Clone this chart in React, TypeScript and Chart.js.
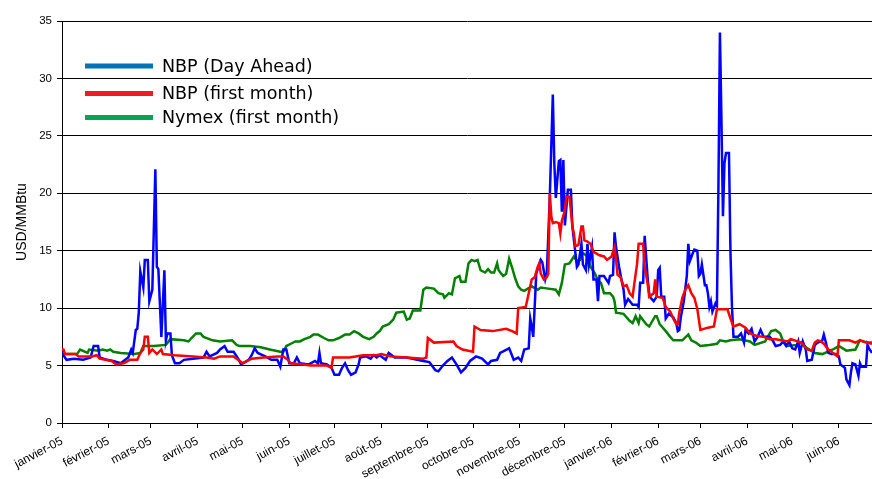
import React, { useEffect, useRef } from 'react';
import { Chart, registerables } from 'chart.js';

Chart.register(...registerables);

// Day offsets (days since 1 Jan 2005) of month starts, and their labels
const monthStarts = [0, 31, 59, 90, 120, 151, 181, 212, 243, 273, 304, 334, 365, 396, 424, 455, 485, 516];
const monthLabels = [
  'janvier-05', 'février-05', 'mars-05', 'avril-05', 'mai-05', 'juin-05', 'juillet-05', 'août-05',
  'septembre-05', 'octobre-05', 'novembre-05', 'décembre-05', 'janvier-06', 'février-06', 'mars-06',
  'avril-06', 'mai-06', 'juin-06',
];
const lastDay = 538;

const yTicks = [0, 5, 10, 15, 20, 25, 30, 35];

// NBP (Day Ahead)
const nbpDayAheadDays = [
  0, 3, 8, 14, 19, 21, 24, 25, 30, 34,
  39, 42, 44, 46, 47, 49, 50, 51, 52, 54,
  55, 57, 58, 60, 62, 63, 64, 66, 68, 69,
  70, 72, 73, 75, 78, 81, 87, 94, 96, 98,
  103, 105, 108, 110, 114, 117, 119, 124, 126, 128,
  130, 135, 139, 143, 145, 147, 149, 151, 154, 156,
  158, 164, 168, 170, 171, 172, 176, 179, 181, 184,
  186, 188, 190, 192, 195, 197, 198, 202, 205, 207,
  209, 211, 215, 217, 221, 229, 236, 240, 244, 248,
  250, 253, 256, 259, 262, 265, 268, 271, 275, 279,
  283, 285, 289, 291, 294, 297, 300, 303, 305, 307,
  310, 311, 312, 313, 315, 318, 319, 321, 322, 324,
  326, 327, 328, 330, 331, 332, 333, 334, 336, 338,
  339, 341, 342, 343, 345, 346, 348, 349, 350, 352,
  353, 355, 356, 357, 360, 363, 364, 366, 367, 368,
  370, 372, 373, 374, 376, 379, 382, 383, 384, 386,
  387, 389, 390, 391, 393, 395, 396, 397, 398, 400,
  401, 403, 404, 406, 408, 409, 410, 411, 413, 415,
  416, 417, 419, 420, 422, 423, 424, 425, 427, 428,
  429, 430, 431, 432, 434, 435, 436, 437, 438, 439,
  440, 441, 443, 444, 445, 446, 449, 451, 453, 454,
  456, 458, 460, 462, 464, 466, 470, 472, 474, 477,
  479, 481, 483, 485, 487, 489, 490, 492, 494, 495,
  498, 500, 502, 505, 506, 507, 509, 511, 514, 516,
  517, 520, 521, 523, 524, 525, 527, 529, 530, 531,
  534, 535, 536, 538,
];
const nbpDayAheadValues = [
  6.1, 5.5, 5.6, 5.5, 5.7, 6.7, 6.7, 5.7, 5.5, 5.4,
  5.2, 5.5, 5.7, 6.4, 6.1, 8.1, 8.2, 9.6, 13.2, 11.8,
  14.2, 14.2, 10.6, 11.6, 22.1, 13.6, 13.4, 7.5, 13.3, 7.2,
  7.8, 7.8, 5.9, 5.2, 5.2, 5.5, 5.6, 5.7, 6.2, 5.8,
  6.1, 6.4, 6.7, 6.2, 6.2, 5.6, 5.1, 5.5, 5.9, 6.5,
  6.1, 5.8, 5.5, 5.5, 4.9, 6.4, 6.4, 5.2, 5.2, 5.7,
  5.2, 5.1, 5.4, 5.2, 6.1, 5.2, 5.1, 4.8, 4.2, 4.2,
  4.8, 5.2, 4.6, 4.2, 4.4, 5.1, 5.7, 5.8, 5.6, 5.9,
  5.7, 5.9, 5.5, 6.1, 5.7, 5.7, 5.5, 5.4, 5.3, 4.6,
  4.5, 5.0, 5.4, 5.7, 5.1, 4.4, 4.8, 5.4, 5.8, 5.6,
  5.1, 5.4, 5.5, 6.1, 6.3, 6.5, 5.5, 5.7, 5.4, 6.4,
  6.5, 9.1, 8.4, 7.5, 13.0, 14.2, 14.0, 12.5, 13.0, 19.7,
  28.6, 22.6, 19.6, 22.8, 22.9, 18.4, 22.9, 17.2, 20.3, 20.3,
  17.1, 14.8, 13.6, 13.8, 15.6, 13.8, 13.3, 15.6, 13.8, 15.3,
  12.5, 12.5, 10.6, 12.8, 12.8, 12.2, 12.8, 12.9, 16.6, 15.3,
  13.6, 12.2, 11.6, 10.3, 10.8, 10.3, 10.3, 10.1, 12.2, 12.2,
  16.3, 12.6, 11.3, 10.9, 10.6, 11.0, 13.3, 13.5, 11.0, 11.0,
  9.1, 9.5, 9.4, 9.2, 8.7, 8.0, 8.1, 9.2, 10.6, 12.8,
  15.6, 14.1, 14.8, 15.1, 15.0, 12.8, 13.0, 13.8, 12.0, 12.0,
  11.3, 10.1, 10.6, 9.7, 10.4, 10.2, 20.6, 34.0, 26.4, 18.0,
  22.6, 23.5, 23.5, 14.8, 10.1, 7.5, 7.5, 7.8, 7.0, 8.1,
  7.8, 8.2, 7.1, 7.5, 8.1, 7.5, 7.5, 7.2, 6.7, 6.8,
  7.1, 6.7, 7.1, 6.5, 6.4, 7.1, 6.1, 7.1, 6.4, 5.4,
  5.5, 6.8, 7.0, 7.2, 7.7, 7.2, 6.1, 6.0, 6.0, 5.8,
  5.1, 4.8, 3.8, 3.3, 4.4, 5.2, 5.1, 4.1, 5.2, 4.9,
  4.9, 6.8, 6.5, 6.1,
];

// NBP (first month)
const nbpFirstMonthDays = [
  0, 1, 2, 9, 11, 20, 23, 25, 33, 36,
  41, 45, 50, 52, 54, 55, 57, 58, 60, 63,
  66, 67, 75, 87, 96, 101, 105, 114, 116, 118,
  120, 126, 134, 143, 147, 150, 152, 160, 165, 176,
  179, 180, 191, 200, 209, 212, 218, 229, 240, 242,
  243, 247, 260, 262, 266, 273, 274, 278, 286, 295,
  299, 302, 303, 308, 310, 312, 314, 316, 317, 318,
  320, 322, 323, 324, 325, 326, 328, 330, 331, 332,
  334, 335, 337, 338, 339, 340, 341, 343, 345, 346,
  347, 349, 351, 353, 357, 360, 362, 365, 367, 368,
  369, 371, 373, 375, 377, 379, 380, 382, 383, 386,
  387, 389, 390, 393, 394, 395, 399, 401, 404, 406,
  408, 409, 410, 412, 414, 416, 418, 420, 422, 424,
  429, 433, 435, 440, 442, 444, 446, 450, 454, 457,
  461, 466, 470, 474, 482, 484, 491, 493, 495, 498,
  500, 502, 504, 506, 509, 511, 513, 515, 516, 523,
  527, 530, 534, 538,
];
const nbpFirstMonthValues = [
  6.4, 6.4, 6.0, 6.0, 5.8, 5.8, 5.9, 5.6, 5.4, 5.1,
  5.2, 5.5, 5.5, 6.1, 6.4, 7.5, 7.5, 6.1, 6.4, 6.0,
  6.4, 6.0, 5.9, 5.8, 5.7, 5.6, 5.8, 5.8, 5.6, 5.4,
  5.2, 5.6, 5.7, 5.8, 5.8, 5.5, 5.2, 5.1, 5.0, 5.0,
  4.8, 5.7, 5.7, 5.9, 5.9, 6.0, 5.8, 5.7, 5.6, 5.7,
  7.4, 7.0, 7.1, 6.7, 6.4, 6.2, 8.4, 8.1, 8.0, 8.2,
  8.0, 7.8, 10.0, 10.1, 11.3, 12.5, 12.7, 13.6, 13.9, 13.0,
  12.5, 12.7, 13.0, 20.0, 18.0, 17.4, 17.5, 17.4, 16.5, 17.6,
  18.5, 19.7, 19.7, 18.5, 17.1, 16.5, 15.4, 15.5, 17.1, 17.1,
  15.9, 15.8, 15.6, 14.9, 14.6, 14.5, 14.2, 14.5, 15.3, 14.2,
  12.9, 12.7, 11.9, 12.0, 11.3, 11.0, 12.0, 13.9, 15.6, 15.6,
  13.6, 12.1, 11.0, 11.3, 12.5, 11.0, 10.9, 10.1, 9.7, 9.1,
  8.6, 8.6, 9.6, 10.9, 11.6, 12.0, 11.3, 10.9, 9.9, 8.1,
  8.3, 8.4, 9.9, 9.9, 9.9, 9.1, 8.4, 8.6, 8.3, 7.8,
  7.6, 7.5, 7.3, 7.3, 7.1, 7.3, 7.0, 6.7, 6.4, 6.3,
  7.0, 7.2, 7.1, 6.9, 6.4, 6.2, 6.0, 5.8, 7.2, 7.2,
  7.0, 7.2, 7.0, 6.9,
];

// Nymex (first month)
const nymexDays = [
  0, 7, 10, 12, 17, 18, 24, 27, 30, 32,
  34, 39, 48, 52, 54, 61, 69, 72, 81, 84,
  86, 89, 92, 94, 100, 105, 113, 116, 118, 125,
  132, 138, 145, 147, 149, 152, 155, 158, 161, 165,
  167, 170, 174, 177, 180, 184, 188, 191, 194, 197,
  200, 204, 207, 209, 211, 213, 217, 220, 222, 227,
  229, 231, 233, 238, 240, 242, 247, 250, 253, 254,
  257, 259, 261, 264, 265, 268, 270, 272, 274, 276,
  278, 281, 283, 285, 287, 289, 290, 293, 295, 297,
  299, 301, 303, 305, 307, 312, 316, 318, 323, 328,
  330, 332, 334, 337, 340, 342, 344, 346, 349, 351,
  354, 356, 358, 360, 364, 366, 367, 368, 373, 377,
  379, 381, 383, 384, 388, 390, 394, 395, 397, 401,
  404, 406, 412, 416, 418, 421, 424, 430, 435, 437,
  441, 444, 450, 457, 460, 467, 471, 474, 477, 479,
  482, 488, 491, 495, 500, 505, 512, 516, 521, 527,
  530, 535, 538,
];
const nymexValues = [
  6.0, 6.0, 6.0, 6.4, 6.1, 6.4, 6.3, 6.4, 6.3, 6.4,
  6.2, 6.1, 6.0, 6.1, 6.7, 6.7, 6.8, 7.3, 7.2, 7.1,
  7.4, 7.8, 7.8, 7.5, 7.2, 7.1, 7.2, 6.8, 6.7, 6.7,
  6.6, 6.4, 6.2, 6.2, 6.7, 6.9, 7.1, 7.1, 7.3, 7.5,
  7.7, 7.7, 7.4, 7.2, 7.2, 7.4, 7.7, 7.7, 8.0, 7.8,
  7.5, 7.3, 7.5, 7.8, 8.0, 8.4, 8.6, 9.0, 9.6, 9.7,
  9.0, 9.1, 9.8, 9.8, 11.6, 11.8, 11.7, 11.3, 11.2, 10.9,
  11.3, 11.2, 12.6, 12.8, 12.3, 12.3, 13.9, 14.2, 14.1, 14.2,
  13.3, 13.1, 13.4, 13.1, 13.1, 13.9, 13.3, 12.8, 13.0, 14.3,
  13.5, 12.6, 11.9, 11.6, 11.5, 11.9, 11.6, 11.8, 11.7, 11.6,
  11.2, 12.2, 13.8, 13.9, 14.5, 14.1, 14.2, 14.8, 14.5, 13.6,
  13.0, 12.4, 12.2, 11.3, 11.3, 11.0, 10.6, 9.6, 9.5, 8.9,
  8.7, 9.3, 8.7, 9.3, 8.6, 8.4, 9.3, 9.3, 8.6, 8.0,
  7.5, 7.2, 7.2, 7.7, 7.2, 7.0, 6.7, 6.8, 6.9, 7.2,
  7.1, 7.2, 7.3, 7.1, 6.8, 7.1, 8.0, 8.1, 7.8, 7.1,
  6.7, 6.8, 7.0, 6.5, 6.1, 6.0, 6.4, 6.7, 6.3, 6.4,
  7.2, 7.0, 7.0,
];

const seriesNames = ['NBP (Day Ahead)', 'NBP (first month)', 'Nymex (first month)'];
const lineColors = ['#0000FF', '#FF0000', '#008000'];
const legendColors = ['#0072BC', '#ED1C24', '#00A651'];

function toPoints(days: number[], values: number[]) {
  return days.map((d, i) => ({ x: d, y: values[i] }));
}

const legendPlugin = {
  id: 'customLegend',
  afterDraw(chart: any) {
    const ctx = chart.ctx as CanvasRenderingContext2D;
    const left = chart.chartArea.left;
    const top = chart.chartArea.top;
    const rowY = [45, 72.5, 96.5];
    ctx.save();
    ctx.font = '17.5px "DejaVu Sans", Verdana, sans-serif';
    ctx.textBaseline = 'middle';
    ctx.textAlign = 'left';
    seriesNames.forEach((name, i) => {
      const y = top + rowY[i];
      ctx.strokeStyle = legendColors[i];
      ctx.lineWidth = 5;
      ctx.lineCap = 'butt';
      ctx.beginPath();
      ctx.moveTo(left + 23, y);
      ctx.lineTo(left + 91, y);
      ctx.stroke();
      ctx.fillStyle = '#000';
      ctx.fillText(name, left + 100, y + 1);
    });
    ctx.restore();
  },
};

export default function App() {
  const canvasRef = useRef<HTMLCanvasElement | null>(null);

  useEffect(() => {
    if (!canvasRef.current) return;
    const family = '"Liberation Sans", Arial, sans-serif';
    const chart = new Chart(canvasRef.current, {
      type: 'line',
      data: {
        datasets: [
          {
            label: seriesNames[1],
            data: toPoints(nbpFirstMonthDays, nbpFirstMonthValues),
            borderColor: lineColors[1],
          },
          {
            label: seriesNames[0],
            data: toPoints(nbpDayAheadDays, nbpDayAheadValues),
            borderColor: lineColors[0],
          },
          {
            label: seriesNames[2],
            data: toPoints(nymexDays, nymexValues),
            borderColor: lineColors[2],
          },
        ],
      },
      options: {
        responsive: false,
        animation: false,
        devicePixelRatio: 1,
        layout: { padding: { top: 21, left: 0, right: 0, bottom: 0 } },
        plugins: { legend: { display: false }, tooltip: { enabled: false } },
        elements: {
          point: { radius: 0 },
          line: { tension: 0, borderWidth: 2.5, fill: false },
        },
        scales: {
          x: {
            type: 'linear',
            min: 0,
            max: lastDay,
            afterBuildTicks: (s: any) => {
              s.ticks = monthStarts.map((v) => ({ value: v }));
            },
            afterFit: (s: any) => {
              s.height = 56;
            },
            ticks: {
              autoSkip: false,
              maxRotation: 28,
              minRotation: 28,
              padding: 6,
              font: { family, size: 12 },
              color: '#000',
              callback: (_v: any, i: number) => monthLabels[i] ?? '',
            },
            grid: { drawOnChartArea: false, drawTicks: true, tickLength: 5, color: '#000' },
            border: { color: '#000', width: 1 },
          },
          y: {
            min: 0,
            max: 35,
            afterBuildTicks: (s: any) => {
              s.ticks = yTicks.map((v) => ({ value: v }));
            },
            afterFit: (s: any) => {
              s.width = 62;
            },
            ticks: { padding: 5, font: { family, size: 11.5 }, color: '#000' },
            grid: { color: '#000', tickLength: 5, lineWidth: 1 },
            border: { color: '#000', width: 1 },
            title: {
              display: true,
              text: 'USD/MMBtu',
              color: '#000',
              font: { family, size: 14 },
              padding: { top: 14, bottom: 0 },
            },
          },
        },
      },
      plugins: [legendPlugin],
    } as any);
    return () => chart.destroy();
  }, []);

  return (
    <div style={{ position: 'fixed', left: 0, top: 0, width: 872, height: 479, background: '#fff' }}>
      <canvas ref={canvasRef} width={872} height={479} style={{ display: 'block' }} />
    </div>
  );
}
